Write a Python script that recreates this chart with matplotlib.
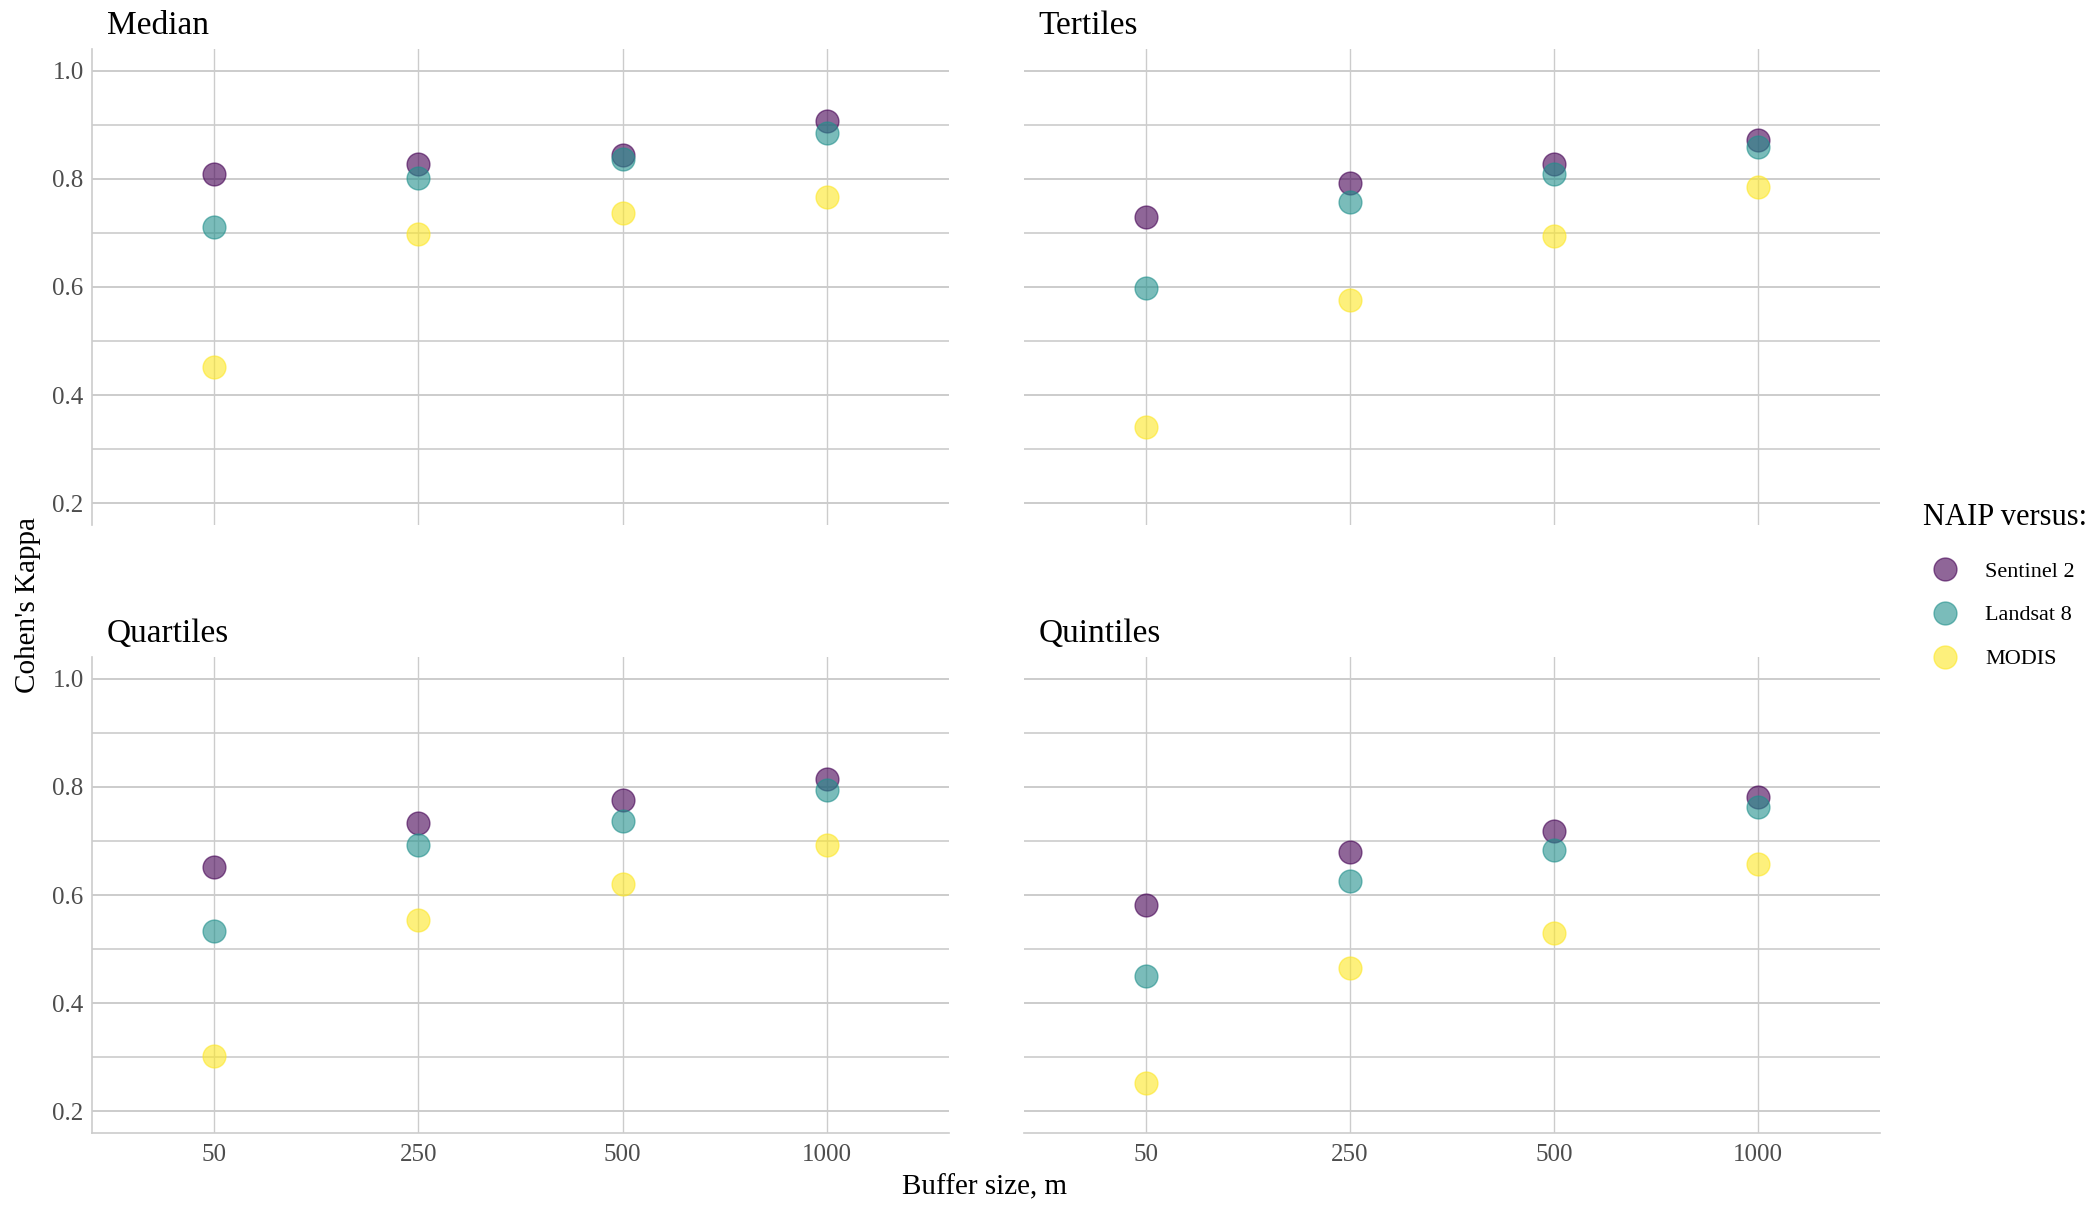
import matplotlib
matplotlib.use("Agg")
import matplotlib.pyplot as plt
from matplotlib.lines import Line2D
import numpy as np

plt.rcParams['font.family'] = ['Liberation Serif', 'DejaVu Serif']

# buffer sizes (discrete x axis)
buffers = ["50", "250", "500", "1000"]
sensors = ["Sentinel 2", "Landsat 8", "MODIS"]
sensor_colors = ["#440154", "#21908C", "#FDE725"]

# Cohen's Kappa, one list per sensor
median_s2 = [0.809, 0.827, 0.844, 0.906]
median_l8 = [0.710, 0.802, 0.837, 0.884]
median_mod = [0.453, 0.698, 0.737, 0.767]

tertiles_s2 = [0.730, 0.792, 0.827, 0.871]
tertiles_l8 = [0.599, 0.757, 0.809, 0.859]
tertiles_mod = [0.341, 0.576, 0.695, 0.785]

quartiles_s2 = [0.651, 0.733, 0.775, 0.814]
quartiles_l8 = [0.534, 0.693, 0.737, 0.794]
quartiles_mod = [0.302, 0.554, 0.621, 0.693]

quintiles_s2 = [0.581, 0.680, 0.718, 0.782]
quintiles_l8 = [0.450, 0.626, 0.683, 0.762]
quintiles_mod = [0.252, 0.465, 0.529, 0.658]

panels = [
    ("Median", [median_s2, median_l8, median_mod]),
    ("Tertiles", [tertiles_s2, tertiles_l8, tertiles_mod]),
    ("Quartiles", [quartiles_s2, quartiles_l8, quartiles_mod]),
    ("Quintiles", [quintiles_s2, quintiles_l8, quintiles_mod]),
]

W, H = 2100, 1212
fig = plt.figure(figsize=(W / 100, H / 100), dpi=100)

grid_col = "#CCCCCC"
# axes boxes in pixels: left, top, right, bottom
boxes = [
    (92, 49, 949, 525),
    (1024, 49, 1880, 525),
    (92, 657, 949, 1133),
    (1024, 657, 1880, 1133),
]

x = np.arange(len(buffers))
for i, (name, series) in enumerate(panels):
    l, t, r, b = boxes[i]
    ax = fig.add_axes([l / W, 1 - b / H, (r - l) / W, (b - t) / H])
    ax.set_xlim(-0.6, len(buffers) - 0.4)
    ax.set_ylim(0.16, 1.04)

    # grid lines
    for yy in [0.2, 0.4, 0.6, 0.8, 1.0]:
        ax.axhline(yy, color=grid_col, lw=1.4, zorder=0)
    for yy in [0.3, 0.5, 0.7, 0.9]:
        ax.axhline(yy, color=grid_col, lw=1.2, zorder=0)
    for xx in x:
        ax.axvline(xx, color=grid_col, lw=1.0, zorder=0)

    for vals, col in zip(series, sensor_colors):
        ax.scatter(x, vals, s=270, color=col, alpha=0.6, edgecolors=col,
                   linewidths=1.0, zorder=3)

    for sp in ax.spines.values():
        sp.set_visible(False)
    left_col = i % 2 == 0
    bottom_row = i >= 2
    if left_col:
        ax.spines['left'].set_visible(True)
        ax.spines['left'].set_color(grid_col)
        ax.spines['left'].set_linewidth(1.2)
    if bottom_row:
        ax.spines['bottom'].set_visible(True)
        ax.spines['bottom'].set_color(grid_col)
        ax.spines['bottom'].set_linewidth(1.2)

    ax.set_yticks([0.2, 0.4, 0.6, 0.8, 1.0])
    ax.set_xticks(x)
    ax.tick_params(length=0, labelsize=18, colors="#4D4D4D", pad=6)
    if left_col:
        ax.set_yticklabels(["0.2", "0.4", "0.6", "0.8", "1.0"])
    else:
        ax.set_yticklabels([])
    if bottom_row:
        ax.set_xticklabels(buffers)
        ax.tick_params(axis='x', pad=8)
    else:
        ax.set_xticklabels([])

    ax.text(0.017, 1.016, name, transform=ax.transAxes, fontsize=24,
            ha='left', va='bottom')

fig.text(985 / W, 1 - 1187 / H, "Buffer size, m", fontsize=21,
         ha='center', va='center')
fig.text(28 / W, 1 - 605 / H, "Cohen's Kappa", fontsize=21,
         ha='center', va='center', rotation=90)

handles = [Line2D([], [], ls='none', marker='o', markersize=16.5,
                  markerfacecolor=c, markeredgecolor=c, alpha=0.6)
           for c in sensor_colors]
leg = fig.legend(handles, sensors, title="NAIP versus:", loc='upper left',
                 bbox_to_anchor=(1914 / W, 1 - 494 / H), frameon=False,
                 fontsize=16, title_fontsize=22, labelspacing=1.05,
                 handletextpad=0.8, borderaxespad=0)
leg._legend_box.align = "left"
leg._legend_box.sep = 21

fig.savefig("out.png", dpi=100)
